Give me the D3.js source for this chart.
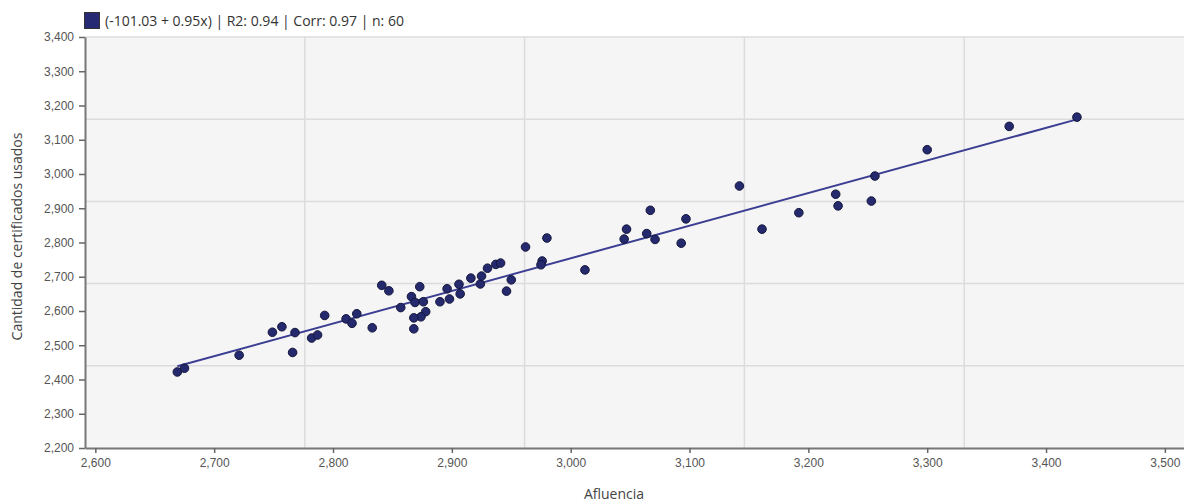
<!DOCTYPE html>
<html>
<head>
<meta charset="utf-8">
<script src="https://cdn.jsdelivr.net/npm/d3@7"></script>
<style>
  body { margin: 0; background: #fff; }
  svg { display: block; font-family: "Open Sans", "Noto Sans", sans-serif; }
</style>
</head>
<body>
<svg id="chart"></svg>
<script>
// data
var afluencia = [2669, 2675, 2721, 2749, 2757, 2768, 2766, 2782, 2787, 2793,
  2811, 2816, 2820, 2833, 2841, 2847, 2857, 2866, 2873, 2869,
  2876, 2878, 2874, 2868, 2868, 2890, 2896, 2898, 2906, 2907,
  2916, 2924, 2925, 2930, 2937, 2941, 2946, 2950, 2962, 2976,
  2975, 2980, 3012, 3045, 3047, 3064, 3067, 3071, 3093, 3097,
  3142, 3161, 3192, 3223, 3225, 3253, 3256, 3300, 3369, 3426];
var certificados = [2422, 2433, 2471, 2538, 2554, 2537, 2479, 2521, 2530, 2587,
  2577, 2564, 2592, 2551, 2675, 2659, 2610, 2642, 2671, 2625,
  2627, 2598, 2583, 2580, 2548, 2627, 2665, 2635, 2678, 2650,
  2696, 2679, 2702, 2725, 2736, 2740, 2658, 2691, 2787, 2746,
  2735, 2813, 2720, 2810, 2839, 2826, 2894, 2809, 2798, 2869,
  2965, 2839, 2887, 2941, 2907, 2921, 2994, 3071, 3139, 3166];
var xTicks = [2600, 2700, 2800, 2900, 3000, 3100, 3200, 3300, 3400, 3500];
var yTicks = [2200, 2300, 2400, 2500, 2600, 2700, 2800, 2900, 3000, 3100, 3200, 3300, 3400];
var legendText = "(-101.03 + 0.95x) | R2: 0.94 | Corr: 0.97 | n: 60";

(function drawScatter() {
  var width = 1184,
    height = 502,
    margin = { top: 37, right: 0, bottom: 54, left: 85 };

  var svg = d3.select("#chart")
    .attr("width", width)
    .attr("height", height);

  var x = d3.scaleLinear()
    .domain([2591.3, 3516.1])
    .range([margin.left, width - margin.right]);

  var y = d3.scaleLinear()
    .domain([2200, 3400])
    .range([height - margin.bottom, margin.top]);

  var fmt = d3.format(",");
  var points = afluencia.map(function(v, i) {
    return { x: v, y: certificados[i] };
  });

  // plot background
  svg.append("rect")
    .attr("x", margin.left)
    .attr("y", margin.top)
    .attr("width", width - margin.right - margin.left)
    .attr("height", height - margin.bottom - margin.top)
    .attr("fill", "#f5f5f5");

  // grid splits the plot in five parts each way
  var xd = x.domain(), yd = y.domain();
  var gridX = d3.range(1, 5).map(function(k) { return xd[0] + k * (xd[1] - xd[0]) / 5; });
  var gridY = d3.range(1, 6).map(function(k) { return yd[0] + k * (yd[1] - yd[0]) / 5; });

  svg.append("g").selectAll("line")
    .data(gridX)
    .enter().append("line")
    .attr("x1", function(d) { return x(d); })
    .attr("x2", function(d) { return x(d); })
    .attr("y1", margin.top)
    .attr("y2", height - margin.bottom)
    .attr("stroke", "#dcdcdc")
    .attr("stroke-width", 1.5);

  svg.append("g").selectAll("line")
    .data(gridY)
    .enter().append("line")
    .attr("x1", margin.left)
    .attr("x2", width - margin.right)
    .attr("y1", function(d) { return y(d); })
    .attr("y2", function(d) { return y(d); })
    .attr("stroke", "#dcdcdc")
    .attr("stroke-width", 1.5);

  // axes
  var xAxis = svg.append("g")
    .attr("transform", "translate(0," + (height - margin.bottom) + ")")
    .call(d3.axisBottom(x).tickValues(xTicks).tickFormat(fmt).tickSize(5).tickSizeOuter(0).tickPadding(5));

  var yAxis = svg.append("g")
    .attr("transform", "translate(" + margin.left + ",0)")
    .call(d3.axisLeft(y).tickValues(yTicks).tickFormat(fmt).tickSize(6).tickSizeOuter(0).tickPadding(5));

  [xAxis, yAxis].forEach(function(ax) {
    ax.select(".domain").attr("stroke", "#777").attr("stroke-width", 2);
    ax.selectAll(".tick line").attr("stroke", "#666").attr("stroke-width", 1.5);
    ax.selectAll(".tick text").attr("fill", "#555").style("font-size", "12px");
  });

  // regression line from least squares
  var mx = d3.mean(afluencia), my = d3.mean(certificados);
  var sxy = d3.sum(points, function(p) { return (p.x - mx) * (p.y - my); });
  var sxx = d3.sum(points, function(p) { return (p.x - mx) * (p.x - mx); });
  var slope = sxy / sxx, intercept = my - slope * mx;
  var ext = d3.extent(afluencia);

  svg.append("line")
    .attr("x1", x(ext[0]))
    .attr("y1", y(intercept + slope * ext[0]))
    .attr("x2", x(ext[1]))
    .attr("y2", y(intercept + slope * ext[1]))
    .attr("stroke", "#3b3e92")
    .attr("stroke-width", 2);

  svg.append("g").selectAll("circle")
    .data(points)
    .enter().append("circle")
    .attr("cx", function(d) { return x(d.x); })
    .attr("cy", function(d) { return y(d.y); })
    .attr("r", 4.3)
    .attr("fill", "#252a6e")
    .attr("stroke", "#14163a")
    .attr("stroke-width", 1);

  // legend
  svg.append("rect")
    .attr("x", 84.5)
    .attr("y", 12.5)
    .attr("width", 15)
    .attr("height", 16)
    .attr("fill", "#252a72")
    .attr("stroke", "#333");

  svg.append("text")
    .attr("x", 105)
    .attr("y", 26)
    .attr("fill", "#333")
    .style("font-size", "14px")
    .text(legendText);

  // axis titles
  svg.append("text")
    .attr("x", 614)
    .attr("y", 499)
    .attr("text-anchor", "middle")
    .attr("fill", "#444")
    .style("font-size", "14px")
    .text("Afluencia");

  svg.append("text")
    .attr("transform", "translate(22," + ((margin.top + height - margin.bottom) / 2 - 6) + ") rotate(-90)")
    .attr("text-anchor", "middle")
    .attr("fill", "#444")
    .style("font-size", "14px")
    .text("Cantidad de certificados usados");
})();
</script>
</body>
</html>
